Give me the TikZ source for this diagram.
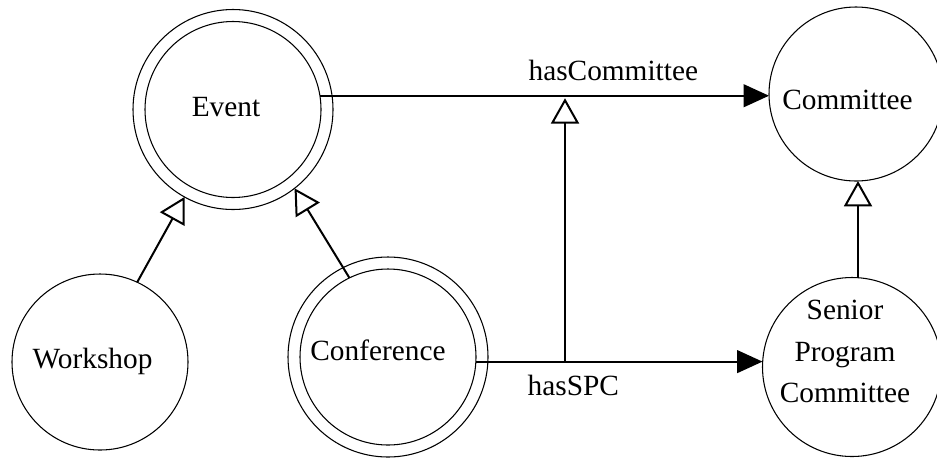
\documentclass[tikz,border=0pt]{standalone}
\usepackage{fontspec}
\setmainfont{Liberation Serif}
\usetikzlibrary{arrows.meta,calc}
\begin{document}
\begin{tikzpicture}[x=0.75pt,y=-0.75pt,
  ring/.style={draw, circle, line width=0.8pt, inner sep=0pt, outer sep=0pt, minimum size=#1},
  lbl/.style={font=\fontsize{22}{31.1}\selectfont, anchor=base, inner sep=0pt},
  conn/.style={line width=1.5pt},
  isa/.style={conn, -{Triangle[length=19pt, width=21pt, fill=white]}},
  rel/.style={conn, -{Triangle[length=19pt, width=17pt]}}]
\useasboundingbox (0,0) rectangle (937,458);
% class circles
\node[ring=150pt] (evout) at (233,109.5) {};
\node[ring=132pt] (evin) at (233,109.5) {};
\node[ring=132pt] (ws) at (100,362) {};
\node[ring=150pt] (cfout) at (388,357) {};
\node[ring=132pt] (cfin) at (388,357) {};
\node[ring=130.5pt] (comm) at (856,94) {};
\node[ring=134.25pt] (spc) at (852,367) {};
% texts
\node[lbl] (evt) at (226,116.7) {Event};
\node[lbl] (wst) at (92.5,368.3) {Workshop};
\node[lbl] (cft) at (378,360.7) {Conference};
\node[lbl] (commt) at (847.5,109) {Committee};
\node[lbl, anchor=center, align=center] (spct) at (845,351.5) {Senior\\Program\\Committee};
\node[lbl] (hc) at (613.3,80) {hasCommittee};
\node[lbl] (hs) at (573.3,395) {hasSPC};
% helper coordinates
\coordinate (jx) at (565,0);
\coordinate (kx) at (858,0);
% connectors
\draw[rel] (evin.9) -- (evin.9 -| comm.west);
\draw[rel] (cfin.-3) -- (cfin.-3 -| spc.west);
\draw[isa] (jx |- cfin.-3) -- ($(jx |- evin.9)+(0,2.5)$);
\draw[isa] (kx |- spc.north) -- (kx |- comm.south);
\draw[isa] (ws.65) -- (evout.-119);
\draw[isa] (cfin.116) -- (evout.-52);
\end{tikzpicture}
\end{document}
